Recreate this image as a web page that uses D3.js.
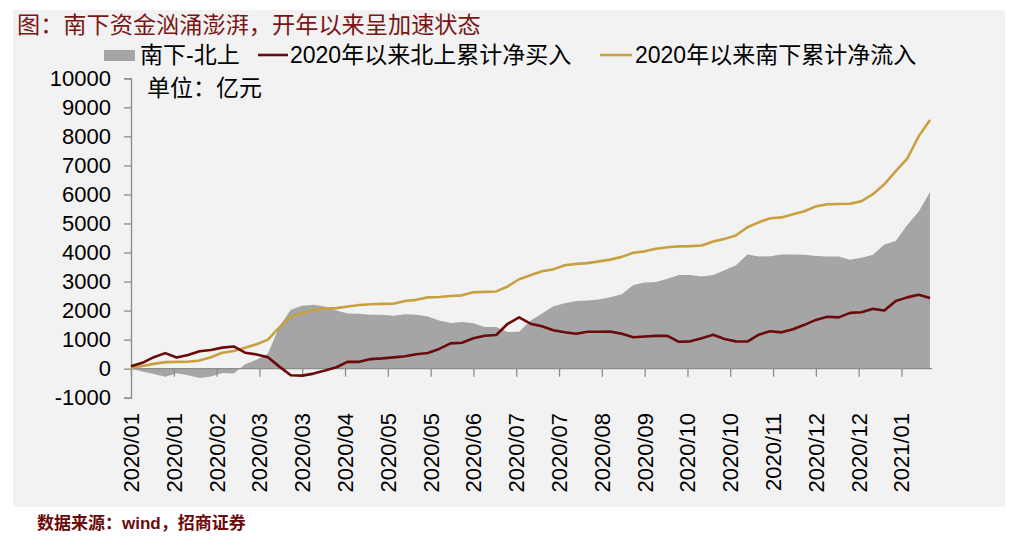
<!DOCTYPE html>
<html><head><meta charset="utf-8">
<script src="https://cdn.jsdelivr.net/npm/d3@7/dist/d3.min.js"></script>
<style>
body{margin:0;background:#fff;}
text{font-family:"Liberation Sans","Noto Sans CJK SC",sans-serif;}
</style></head>
<body><svg id="c" width="1023" height="538"></svg>
<script>
// trading-day index of each sample (every 4th trading day since 2020-01-02)
const step = 4;
const tickLabels = ["2020/01","2020/01","2020/02","2020/03","2020/03","2020/04","2020/05","2020/05","2020/06","2020/07","2020/07","2020/08","2020/09","2020/10","2020/10","2020/11","2020/12","2020/12","2021/01"];
const tickEvery = 15;
const yTicks = [-1000,0,1000,2000,3000,4000,5000,6000,7000,8000,9000,10000];

// 南下-北上 (亿元)
const diffSeries = [0,-100,-180,-280,-160,-230,-320,-270,-150,-170,150,310,520,1450,2030,2170,2200,2140,2000,1900,
1890,1855,1855,1820,1870,1860,1800,1660,1570,1610,1560,1435,1435,1260,1270,1650,1900,2150,2250,2330,
2350,2380,2460,2560,2880,2970,2985,3100,3230,3230,3170,3230,3390,3560,3930,3865,3870,3935,3935,3920,
3880,3865,3865,3750,3820,3920,4280,4400,4950,5400,6080];
// 2020年以来北上累计净买入
const northSeries = [80,200,395,535,385,470,600,645,725,765,550,490,390,70,-225,-240,-170,-65,50,240,
235,330,355,390,430,495,540,680,870,890,1050,1135,1160,1545,1765,1550,1460,1320,1255,1200,
1270,1270,1275,1200,1080,1110,1130,1130,925,940,1050,1165,1020,940,935,1170,1290,1250,1360,1510,
1680,1790,1765,1920,1945,2060,2005,2330,2455,2545,2430];
// 2020年以来南下累计净流入
const southSeries = [20,90,165,225,235,238,280,395,550,610,720,840,1000,1420,1800,1920,2020,2070,2085,2140,
2195,2220,2230,2235,2330,2370,2455,2470,2500,2525,2630,2645,2660,2830,3080,3220,3355,3420,3560,3610,
3635,3695,3755,3850,3990,4040,4130,4180,4210,4220,4240,4380,4470,4590,4870,5040,5180,5210,5320,5420,
5590,5660,5670,5680,5770,6010,6350,6800,7230,8000,8560];

const title = "图：南下资金汹涌澎湃，开年以来呈加速状态";
const unitText = "单位：亿元";
const sourceText = "数据来源：wind，招商证券";
const legendNames = ["南下-北上","2020年以来北上累计净买入","2020年以来南下累计净流入"];
const colors = {diff:"#a5a5a5", north:"#6b0a0a", south:"#c9a040", axis:"#8c8c8c"};

const svg = d3.select("#c");
svg.append("rect").attr("x",13).attr("y",10).attr("width",992).attr("height",497).attr("fill","#f2f2f2");

const n = diffSeries.length;
const days = d3.range(n).map(i=>i*step);
const x = d3.scaleLinear().domain([0,(n-1)*step]).range([131,930]);
const y = d3.scaleLinear().domain([-1000,10000]).range([397.7,78.3]);

// area
const area = d3.area().x((d,i)=>x(days[i])).y0(y(0)).y1(d=>y(d));
svg.append("path").datum(diffSeries).attr("d",area).attr("fill",colors.diff);

// axes
const yAxis = d3.axisLeft(y).tickValues(yTicks).tickSize(7).tickPadding(13).tickFormat(d=>String(d));
const gy = svg.append("g").attr("transform","translate(131,0)").call(yAxis);
gy.select(".domain").attr("stroke",colors.axis).attr("stroke-width",1.3);
gy.selectAll(".tick line").attr("stroke",colors.axis).attr("stroke-width",1.3);
gy.selectAll(".tick text").attr("font-size","22px").attr("fill","#000")
  .attr("font-family","'Liberation Sans',Arial,sans-serif");

const tickDays = tickLabels.map((t,i)=>i*tickEvery);
const xAxis = d3.axisBottom(x).tickValues(tickDays).tickSize(8).tickFormat((d,i)=>tickLabels[i]);
const gx = svg.append("g").attr("transform",`translate(0,${y(0)})`).call(xAxis);
gx.select(".domain").attr("stroke",colors.axis).attr("stroke-width",1.3).attr("d",`M131,0H${x((n-1)*step)+2}`);
gx.selectAll(".tick line").attr("stroke",colors.axis).attr("stroke-width",1.3);
gx.selectAll(".tick text").attr("font-size","22px").attr("fill","#000")
  .attr("font-family","'Liberation Sans',Arial,sans-serif")
  .attr("text-anchor","end").attr("dy",null).attr("y",null)
  .attr("dominant-baseline","central")
  .attr("transform",`translate(0,${413-y(0)}) rotate(-90)`);

// lines
const line = d3.line().x((d,i)=>x(days[i])).y(d=>y(d));
svg.append("path").datum(southSeries).attr("d",line).attr("fill","none").attr("stroke",colors.south).attr("stroke-width",2.6).attr("stroke-linejoin","round");
svg.append("path").datum(northSeries).attr("d",line).attr("fill","none").attr("stroke",colors.north).attr("stroke-width",2.6).attr("stroke-linejoin","round");

// title
svg.append("text").attr("x",17).attr("y",33).attr("font-size","23.2px").attr("fill","#7a1616")
  .attr("font-family","'Noto Sans CJK SC',sans-serif").text(title);

// legend
svg.append("rect").attr("x",104).attr("y",50).attr("width",31).attr("height",11).attr("fill",colors.diff);
svg.append("text").attr("x",140).attr("y",63).attr("font-size","23px").text(legendNames[0]);
svg.append("line").attr("x1",258).attr("x2",288).attr("y1",55).attr("y2",55).attr("stroke",colors.north).attr("stroke-width",2.6);
svg.append("text").attr("x",290).attr("y",63).attr("font-size","23px").text(legendNames[1]);
svg.append("line").attr("x1",600).attr("x2",632).attr("y1",55).attr("y2",55).attr("stroke",colors.south).attr("stroke-width",2.6);
svg.append("text").attr("x",635).attr("y",63).attr("font-size","23px").text(legendNames[2]);

svg.append("text").attr("x",147).attr("y",96).attr("font-size","23px").text(unitText);

svg.append("text").attr("x",37).attr("y",529).attr("font-size","17px").attr("font-weight","bold").attr("fill","#6b0a0a").text(sourceText);
</script></body></html>
